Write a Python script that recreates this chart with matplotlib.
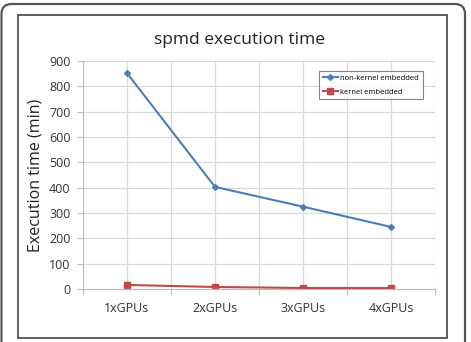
import matplotlib
matplotlib.use("Agg")
import matplotlib.pyplot as plt
from matplotlib.patches import PathPatch, Rectangle
from matplotlib.path import Path
from matplotlib.transforms import IdentityTransform

categories = ["1xGPUs", "2xGPUs", "3xGPUs", "4xGPUs"]
non_kernel = [852, 403, 325, 245]
kernel = [16, 8, 4, 4]

W, H = 471, 342
fig = plt.figure(figsize=(W / 100, H / 100), dpi=100)
plt.rcParams['font.family'] = ['Open Sans', 'DejaVu Sans']

# pixel (from top-left) -> figure fractions
def fx(x):
    return x / W

def fy(y):
    return 1 - y / H

# outer frame: open at the bottom, rounded top corners (display pixels)
top = H - 4
r = 10
verts = [(1.5, -20), (1.5, top - r), (1.5, top), (1.5 + r, top),
         (465 - r, top), (465, top), (465, top - r), (465, -20)]
codes = [Path.MOVETO, Path.LINETO, Path.CURVE3, Path.CURVE3,
         Path.LINETO, Path.CURVE3, Path.CURVE3, Path.LINETO]
outer = PathPatch(Path(verts, codes), transform=IdentityTransform(),
                  fill=False, edgecolor="#555555", linewidth=1.6)
fig.patches.append(outer)
inner = Rectangle((fx(18), fy(338)), fx(429), 323 / H,
                  transform=fig.transFigure, fill=False,
                  edgecolor="#444444", linewidth=1.2)
fig.patches.append(inner)

ax = fig.add_axes([fx(83), fy(289), fx(352), 228 / H])
x = list(range(len(categories)))
ax.plot(x, non_kernel, color="#4a7ebb", lw=1.5, marker="D", ms=3,
        label="non-kernel embedded")
ax.plot(x, kernel, color="#be4b48", lw=1.5, marker="s", ms=4,
        label="kernel embedded")

ax.set_xlim(-0.5, 3.5)
ax.set_ylim(0, 900)
ax.set_yticks(range(0, 901, 100))
ax.set_xticks([i - 0.5 for i in range(5)])
ax.set_xticklabels([])
ax.set_xticks(x, minor=True)
ax.set_xticklabels(categories, minor=True)
ax.tick_params(axis="x", which="minor", length=0, pad=9, labelsize=9,
               labelcolor="#333333")
ax.tick_params(axis="x", which="major", length=4, color="#bbbbbb")
ax.tick_params(axis="y", length=4, color="#bbbbbb", labelsize=9,
               labelcolor="#333333", pad=5)
ax.grid(True, which="both", axis="x", color="#d9d9d9", lw=0.9)
ax.grid(True, which="major", axis="y", color="#d9d9d9", lw=0.9)
ax.set_axisbelow(True)
for s in ["top", "right"]:
    ax.spines[s].set_visible(False)
for s in ["left", "bottom"]:
    ax.spines[s].set_color("#bbbbbb")

ax.set_ylabel("Execution time (min)", fontsize=11.5, color="#222222",
              labelpad=4)
fig.text(fx(240), fy(40), "spmd execution time", ha="center", va="center",
         fontsize=12.5, color="#222222")

leg = ax.legend(loc="upper left", bbox_to_anchor=((319 - 83) / 352, 1 - (71 - 61) / 228),
                fontsize=5.5, frameon=True, fancybox=False, borderpad=0.5,
                borderaxespad=0, handlelength=2.0, labelspacing=0.8,
                handletextpad=0.3)
leg.get_frame().set_edgecolor("#666666")
leg.get_frame().set_linewidth(0.8)

fig.savefig("out.png", dpi=100)
